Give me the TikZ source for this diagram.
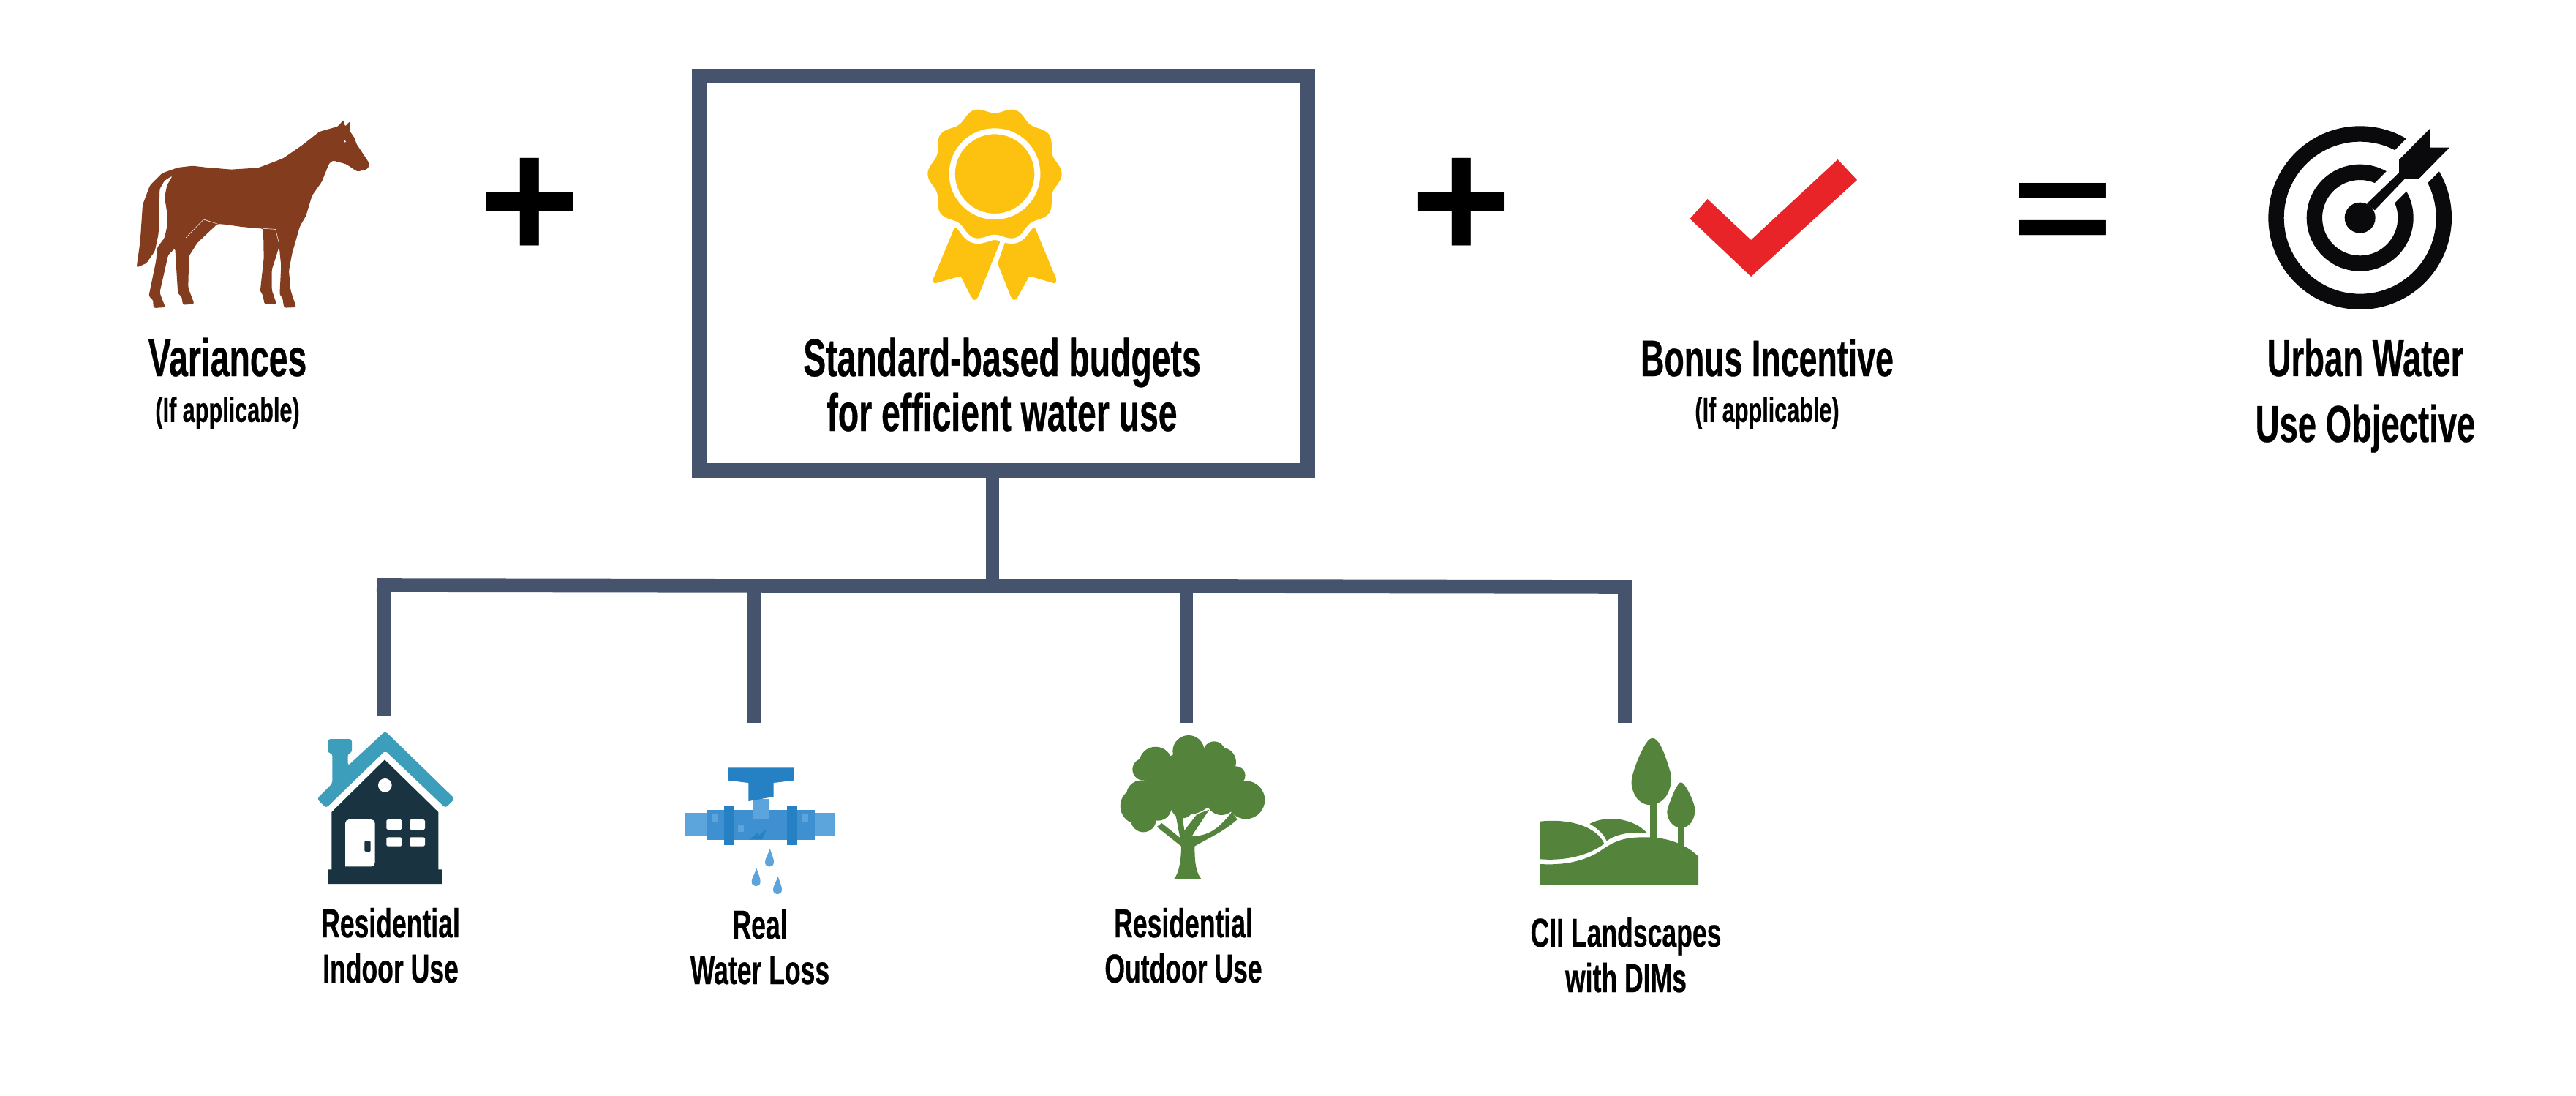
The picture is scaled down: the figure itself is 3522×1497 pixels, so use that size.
\documentclass[tikz,border=0pt]{standalone}
\usepackage{fontspec}
\setmainfont{Liberation Sans}[FakeStretch=0.64,BoldFeatures={FakeBold=0.4}]
\newfontfamily\signfont{Liberation Sans}
\usepackage{tikz}
\usetikzlibrary{positioning,calc}
\definecolor{slateline}{HTML}{45546C}
\definecolor{horsebrown}{HTML}{843C1E}
\definecolor{medalgold}{HTML}{FDC210}
\definecolor{checkred}{HTML}{E92428}
\definecolor{roofteal}{HTML}{3C9EBB}
\definecolor{housedark}{HTML}{1A3340}
\definecolor{pipedark}{HTML}{2580C4}
\definecolor{pipemid}{HTML}{3E90D0}
\definecolor{pipelight}{HTML}{5CA5DC}
\definecolor{leafgreen}{HTML}{54843C}
\definecolor{targetblack}{HTML}{0A0A0C}
\begin{document}
\begin{tikzpicture}[x=0.01cm, y=-0.01cm]
        \tikzset{headlabel/.style={anchor=base, align=center, inner sep=0pt, font=\bfseries\fontsize{19.9}{21.3}\selectfont},
            widelabel/.style={anchor=base, align=center, inner sep=0pt, font=\bfseries\fontsize{20.6}{21.3}\selectfont},
            goallabel/.style={anchor=base, align=center, inner sep=0pt, font=\bfseries\fontsize{20.2}{25.6}\selectfont},
            sublabel/.style={anchor=base, align=center, inner sep=0pt, font=\bfseries\fontsize{13.6}{15}\selectfont},
            uselabel/.style={anchor=base, align=center, inner sep=0pt, font=\bfseries\fontsize{15.8}{17.6}\selectfont},
            signlabel/.style={anchor=center, inner sep=0pt, font=\signfont\bfseries\fontsize{67}{67}\selectfont},
            wire/.style={draw=slateline, line width=5.3pt},
            icon/.style={shift={(#1)}, scale=1/3}}
        \useasboundingbox (0,0) rectangle (3522,1497);
        \node[draw=slateline, line width=5.6pt, fill=white, minimum width=8.31cm, minimum height=5.38cm] (budget) at (1372,373.5) {};
        \coordinate (busleft) at (515,799.5);
        \coordinate (busright) at (2231,802.5);
        \coordinate (bustap) at (1357,801);
        \coordinate (indoorend) at (525,979);
        \coordinate (lossend) at (1031.5,988);
        \coordinate (outdoorend) at (1622,988);
        \coordinate (ciiend) at (2221.5,988);
        \draw[wire] (budget.south -| bustap) -- (bustap);
        \draw[wire] (busleft) -- (busright);
        \foreach \stubend in {indoorend,lossend,outdoorend,ciiend}
            \draw[wire] (\stubend |- bustap) -- (\stubend);

        \begin{scope}[icon={150,130}]
            \fill[horsebrown, rounded corners=0.8pt] (937,128) -- (960,100) -- (965,130) -- (985,107) -- (983,145) -- (1007,180) -- (1010,197) -- (1060,272) -- (1065,285) -- (1058,303) -- (1016,314) -- (970,283) -- (915,268) -- (900,280) -- (870,355) -- (830,412) -- (805,495) -- (780,538) -- (748,650) -- (735,720) -- (742,800) -- (765,870) -- (715,872) -- (708,828) -- (697,820) -- (703,700) -- (695,620) -- (680,670) -- (665,715) -- (665,800) -- (685,858) -- (635,858) -- (628,818) -- (617,805) -- (632,670) -- (630,548) -- (540,540) -- (470,530) -- (442,528) -- (360,605) -- (325,660) -- (322,790) -- (347,856) -- (300,860) -- (295,825) -- (280,815) -- (268,628) -- (240,655) -- (205,810) -- (228,870) -- (180,873) -- (177,838) -- (160,825) -- (190,680) -- (195,625) -- (225,585) -- (237,530) -- (235,480) -- (225,420) -- (235,370) -- (258,330) -- (225,350) -- (205,385) -- (200,570) -- (185,640) -- (150,690) -- (110,707) -- (125,600) -- (135,450) -- (165,370) -- (215,320) -- (280,297) -- (340,290) -- (400,297) -- (500,305) -- (610,298) -- (710,260) -- (790,205) -- (860,150) -- cycle;
            \fill[white] (965,190) circle (4);
            \draw[white, line width=0.15pt] (312,585) -- (385,510) -- (442,528);
            \draw[white, line width=0.15pt] (630,547) -- (680,550) -- (695,610);
        \end{scope}

        \begin{scope}[icon={1200,130}]
            \fill[medalgold, rounded corners=0.6pt] (315,543) -- (400,500) -- (503,600) -- (410,832) -- (398,842) -- (386,832) -- (340,742) -- (232,773) -- (225,760) -- cycle;
            \fill[medalgold, rounded corners=0.6pt] (645,543) -- (560,500) -- (522,605) -- (492,690) -- (548,832) -- (560,842) -- (572,832) -- (622,742) -- (728,773) -- (735,760) -- cycle;
            \draw[white, line width=4.2pt, fill=white] plot[domain=0:360, samples=120, smooth] ({480+(262+13*cos(10*\x))*cos(\x)}, {323+(262+13*cos(10*\x))*sin(\x)}) -- cycle;
            \fill[medalgold] plot[domain=0:360, samples=120, smooth] ({480+(262+13*cos(10*\x))*cos(\x)}, {323+(262+13*cos(10*\x))*sin(\x)}) -- cycle;
            \draw[white, line width=2.3pt] (480,323) circle (175);
        \end{scope}

        \begin{scope}[icon={3050,150}]
            \fill[targetblack, even odd rule] (530,443) circle (376) (530,443) circle (312);
            \draw[white, line width=18pt] (530,443) -- (980,-7);
            \fill[targetblack, even odd rule] (530,443) circle (219) (530,443) circle (155);
            \draw[white, line width=11pt] (530,443) -- (740,233);
            \fill[targetblack] (530,443) circle (63);
            \fill[targetblack] (558,385) -- (690,258) -- (690,205) -- (817,77) -- (817,155) -- (897,155) -- (772,282) -- (715,282) -- (590,412) -- cycle;
        \end{scope}

        \begin{scope}[icon={410,980}]
            \fill[roofteal, rounded corners=1pt] (350,58) -- (635,335) -- (597,373) -- (350,138) -- (108,373) -- (70,335) -- (133,272) -- (133,148) -- (115,148) -- (115,90) -- (213,90) -- (213,148) -- (197,148) -- (197,200) -- cycle;
            \fill[housedark] (348,175) -- (568,390) -- (568,625) -- (582,625) -- (582,684) -- (117,684) -- (117,625) -- (130,625) -- (130,390) -- cycle;
            \fill[white] (349,280) circle (28);
            \fill[white, rounded corners=1.5pt] (186,613) -- (186,420) -- (308,420) -- (308,613) [sharp corners] -- cycle;
            \fill[housedark, rounded corners=0.5pt] (265,507) rectangle (290,553);
            \foreach \panex/\paney in {355/420,450/420}
                \fill[white, rounded corners=0.5pt] (\panex,\paney) rectangle ++(63,42);
            \foreach \panex/\paney in {355/493,450/493}
                \fill[white, rounded corners=0.5pt] (\panex,\paney) rectangle ++(63,37);
        \end{scope}

        \begin{scope}[icon={910,1020}]
            \fill[pipelight] (80,274) rectangle (168,370);
            \fill[pipelight] (613,274) rectangle (692,370);
            \fill[pipemid] (168,260) rectangle (613,385);
            \fill[pipedark] (240,246) rectangle (282,406);
            \fill[pipedark] (497,246) rectangle (539,406);
            \fill[pipelight] (358,215) rectangle (423,298);
            \fill[pipedark] (256,88) -- (525,88) -- (525,140) -- (443,150) -- (443,207) -- (340,225) -- (340,150) -- (258,140) -- cycle;
            \fill[pipelight] (190,280) rectangle ++(25,30);
            \fill[pipelight] (561,280) rectangle ++(25,30);
            \fill[pipelight] (296,322) rectangle ++(24,30);
            \fill[pipedark] (345,382) -- (380,352) -- (375,370) -- (415,340) -- (395,382) -- cycle;
            \foreach \dropx/\dropy in {428/420,373/500,461/533}
                \fill[pipelight] (\dropx,\dropy) .. controls (\dropx+8,\dropy+25) and (\dropx+16,\dropy+40) .. (\dropx+16,\dropy+55) .. controls (\dropx+16,\dropy+80) and (\dropx-20,\dropy+80) .. (\dropx-20,\dropy+55) .. controls (\dropx-20,\dropy+40) and (\dropx-8,\dropy+25) .. (\dropx,\dropy) -- cycle;
        \end{scope}

        \begin{scope}[icon={1500,980}]
            \foreach \blobx/\bloby/\blobr in {375/140/65,480/145/45,240/190/68,190/215/45,510/185/60,570/240/38,610/340/78,170/365/75,190/420/52,250/370/55,350/370/45,510/340/62,370/270/130,270/280/80,450/280/90,180/320/60,300/240/80,530/280/70}
                \fill[leafgreen] (\blobx,\bloby) circle (\blobr);
            \fill[leafgreen] (315,665) .. controls (335,640) and (345,590) .. (345,530) -- (245,450) -- (265,435) -- (340,495) -- (322,400) -- (348,400) -- (358,465) -- (410,398) -- (460,380) -- (400,470) -- (388,490) .. controls (450,485) and (490,470) .. (552,390) -- (575,420) .. controls (520,470) and (450,500) .. (400,530) .. controls (400,590) and (405,640) .. (428,665) -- cycle;
        \end{scope}

        \begin{scope}[icon={2080,990}]
            \fill[leafgreen] (527,320) rectangle (555,470);
            \fill[leafgreen] (643,415) rectangle (667,500);
            \fill[leafgreen] plot[smooth cycle, tension=0.6] coordinates {(540,57) (570,85) (600,160) (615,230) (590,300) (535,331) (480,310) (452,245) (470,165) (510,80)};
            \fill[leafgreen] plot[smooth cycle, tension=0.6] coordinates {(655,238) (680,265) (705,320) (712,360) (695,405) (655,426) (615,405) (598,360) (615,305) (635,260)};
            \fill[leafgreen] (78,573) .. controls (200,580) and (280,550) .. (330,515) .. controls (380,480) and (420,463) .. (500,463) .. controls (600,460) and (680,495) .. (726,542) -- (726,657) -- (78,657) -- cycle;
            \fill[leafgreen] (78,398) .. controls (200,385) and (310,420) .. (340,490) .. controls (270,540) and (180,560) .. (78,553) -- cycle;
            \fill[leafgreen] (280,408) .. controls (350,370) and (460,385) .. (515,445) .. controls (440,440) and (390,450) .. (350,478) .. controls (335,445) and (310,425) .. (280,408) -- cycle;
        \end{scope}

        \fill[checkred] (2310.5,299) -- (2334.5,272) -- (2394,328) -- (2512.5,218) -- (2539,246) -- (2394,378) -- cycle;

        \node[signlabel] (plusleft) at (724.5,285) {+};
        \node[signlabel] (plusright) at (1998,285) {+};
        \node[signlabel, yscale=0.8, transform shape] (equalsign) at (2820,299) {=};

        \node[widelabel] (variances) at (311,514) {Variances};
        \node[sublabel, below=0.26cm of variances] (variancesnote) {(If applicable)};
        \node[widelabel] (standards) at (1370,589) {Standard-based budgets\\for efficient water use};
        \node[headlabel] (bonus) at (2416,514) {Bonus Incentive};
        \node[sublabel, below=0.26cm of bonus] (bonusnote) {(If applicable)};
        \node[goallabel] (objective) at (3234,604) {Urban Water\\Use Objective};
        \node[uselabel] (indoor) at (534,1343) {Residential\\Indoor Use};
        \node[uselabel] (loss) at (1039,1345) {Real\\Water Loss};
        \node[uselabel] (outdoor) at (1618,1343) {Residential\\Outdoor Use};
        \node[uselabel] (cii) at (2223,1356) {CII Landscapes\\with DIMs};
    \end{tikzpicture}
\end{document}
